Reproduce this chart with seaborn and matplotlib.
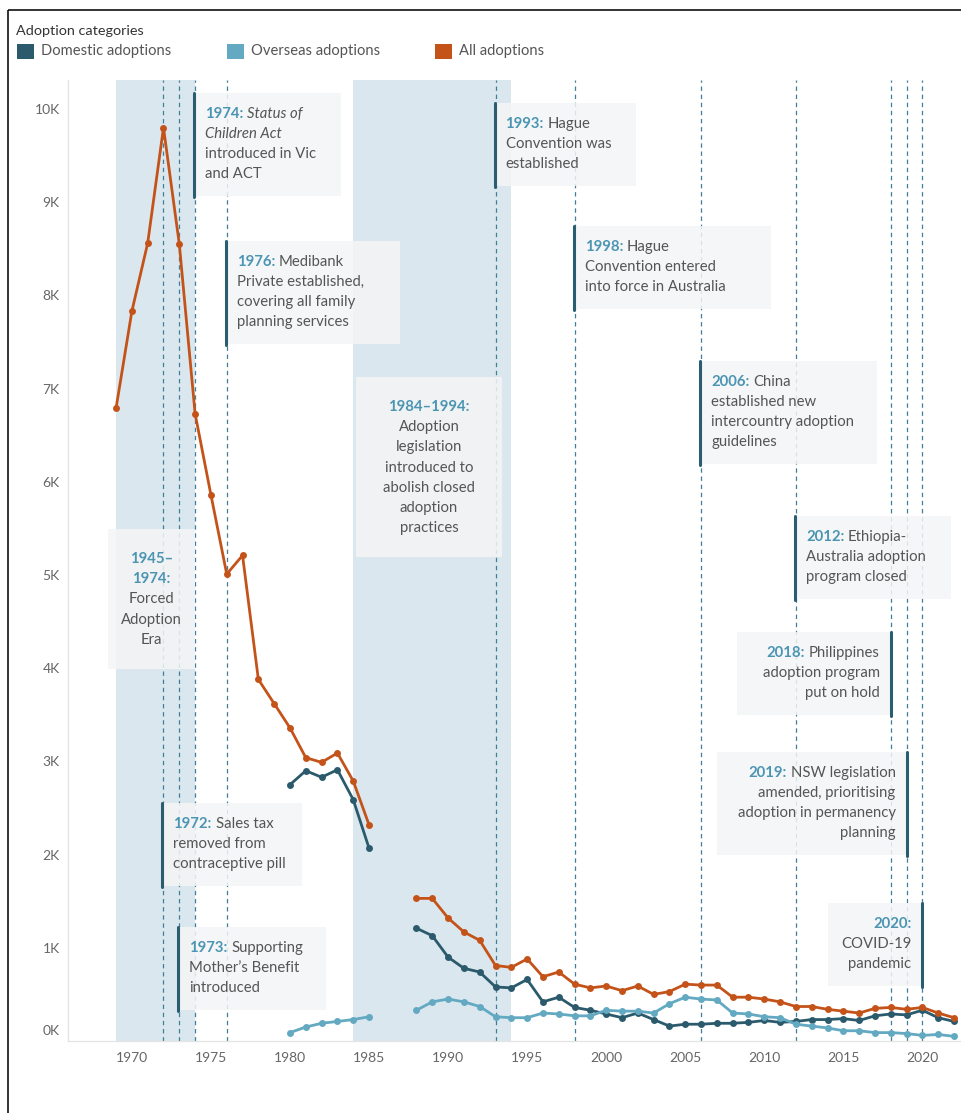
import numpy as np
import pandas as pd
import matplotlib
matplotlib.use('Agg')
import matplotlib.pyplot as plt
import matplotlib.transforms as mtransforms
from matplotlib.patches import Rectangle
import seaborn as sns

# ---------------- data ----------------
years_early_all = list(range(1969, 1986))
all_early = [6790, 7830, 8560, 9800, 8550, 6730, 5860, 5010, 5210, 3880,
             3620, 3360, 3040, 2990, 3090, 2790, 2320]
years_early_sub = list(range(1980, 1986))
dom_early = [2750, 2900, 2830, 2910, 2590, 2070]
ovs_early = [90, 150, 190, 210, 230, 260]

years_late = list(range(1988, 2023))
all_late = [1530, 1530, 1320, 1170, 1080, 810, 790, 880, 690, 740,
            610, 570, 590, 540, 590, 500, 530, 610, 600, 600,
            470, 470, 450, 420, 370, 370, 340, 320, 300, 350,
            360, 340, 360, 300, 250]
dom_late = [1210, 1130, 900, 780, 740, 580, 570, 660, 420, 470,
            360, 330, 290, 250, 300, 230, 160, 180, 180, 190,
            190, 200, 220, 200, 210, 230, 230, 240, 220, 270,
            290, 280, 330, 250, 210]
ovs_late = [330, 420, 450, 420, 370, 260, 250, 250, 300, 290,
            270, 270, 330, 320, 320, 300, 400, 470, 450, 440,
            300, 290, 260, 250, 180, 160, 140, 110, 110, 90,
            90, 80, 60, 70, 50]

categories = ['Domestic adoptions', 'Overseas adoptions', 'All adoptions']
colors = ['#2a5a6b', '#62a9c1', '#c4531a']
event_years = [1972, 1973, 1974, 1976, 1993, 1998, 2006, 2012, 2018, 2019, 2020]
shade_periods = [(1969, 1974), (1984, 1994)]
y_ticks = [0, 1000, 2000, 3000, 4000, 5000, 6000, 7000, 8000, 9000, 10000]
y_ticklabels = ['0K', '1K', '2K', '3K', '4K', '5K', '6K', '7K', '8K', '9K', '10K']
x_ticks = [1970, 1975, 1980, 1985, 1990, 1995, 2000, 2005, 2010, 2015, 2020]

rows = []
def add(cat, seg, yrs, vals):
    for yr, v in zip(yrs, vals):
        rows.append(dict(category=cat, segment=f'{cat}-{seg}', year=yr, value=v))
add('All adoptions', 'a', years_early_all, all_early)
add('Domestic adoptions', 'a', years_early_sub, dom_early)
add('Overseas adoptions', 'a', years_early_sub, ovs_early)
add('All adoptions', 'b', years_late, all_late)
add('Domestic adoptions', 'b', years_late, dom_late)
add('Overseas adoptions', 'b', years_late, ovs_late)
df = pd.DataFrame(rows)

# ---------------- figure ----------------
W, H = 962, 1113
sns.set_theme(style='white')
plt.rcParams['font.family'] = ['Lato', 'DejaVu Sans']

fig = plt.figure(figsize=(W / 100, H / 100), dpi=100)
L, R, T, B = 68, 960, 80, 1041
ax = fig.add_axes([L / W, 1 - B / H, (R - L) / W, (B - T) / H])
ax.set_xlim(1965.96, 2022.38)
ax.set_ylim(0, 10311)

for a, b in shade_periods:
    ax.axvspan(a, b, color='#dbe7ee', lw=0, zorder=0)
for yr in event_years:
    ax.axvline(yr, color='#3f7f98', lw=0.9, ls=(0, (3.5, 3)), zorder=1)

sns.lineplot(data=df, x='year', y='value', hue='category', units='segment',
             estimator=None, hue_order=categories, palette=colors,
             marker='o', markersize=5, markeredgewidth=0, linewidth=2.0,
             legend=False, ax=ax, zorder=3)

ax.set_xlabel('')
ax.set_ylabel('')
ax.set_yticks(y_ticks)
ax.set_yticklabels(y_ticklabels)
ax.set_xticks(x_ticks)
ax.set_xticklabels([str(x) for x in x_ticks])
ax.tick_params(axis='both', colors='#d9d9d9', labelcolor='#666666',
               labelsize=10, length=4, width=0.8)
ax.tick_params(axis='y', pad=2)
ax.tick_params(axis='x', pad=4)
for s in ['top', 'right']:
    ax.spines[s].set_visible(False)
for s in ['left', 'bottom']:
    ax.spines[s].set_color('#e3e3e3')
    ax.spines[s].set_linewidth(0.9)
ax.grid(False)
# Tableau nudges the lowest label up inside the pane
zero_lab = ax.get_yticklabels()[0]
zero_lab.set_transform(zero_lab.get_transform() +
                       mtransforms.ScaledTranslation(0, 11 / 100, fig.dpi_scale_trans))

# pixel transform (origin top-left)
PX = mtransforms.Affine2D().scale(1, -1).translate(0, H)
fig.canvas.draw()
renderer = fig.canvas.get_renderer()

YEAR_C = '#4b95b3'
BODY_C = '#555555'
BAR_C = '#2b5d70'
BOX_C = '#f4f5f6'
FS = 10.7

def style_of(kind):
    if kind == 'y':
        return dict(color=YEAR_C, fontweight='bold', fontstyle='normal')
    if kind == 'i':
        return dict(color=BODY_C, fontweight='normal', fontstyle='italic')
    return dict(color=BODY_C, fontweight='normal', fontstyle='normal')

def measure(txt, kind):
    t = fig.text(0, 0, txt, fontsize=FS, transform=PX, **style_of(kind))
    w = t.get_window_extent(renderer).width
    t.remove()
    return w

SP = measure('a a', 'n') - measure('aa', 'n')

def draw_runs(x, y, runs, ha='left'):
    widths = []
    for txt, kind in runs:
        lead = len(txt) - len(txt.lstrip(' '))
        widths.append((lead * SP, measure(txt.strip(' '), kind) if txt.strip() else 0))
    total = sum(a + b for a, b in widths)
    if ha == 'left':
        cur = x
    elif ha == 'right':
        cur = x - total
    else:
        cur = x - total / 2
    for (txt, kind), (lead, w) in zip(runs, widths):
        cur += lead
        fig.text(cur, y, txt.strip(' '), fontsize=FS, transform=PX, ha='left',
                 va='center', zorder=6, **style_of(kind))
        cur += w

def xpix(year):
    return ax.transData.transform((year, 0))[0]

def box(x0, x1, top, bot, bar=None):
    fig.patches.append(Rectangle((x0, top), x1 - x0, bot - top, transform=PX,
                                 facecolor=BOX_C, edgecolor='none', alpha=0.85,
                                 zorder=4))
    if bar is not None:
        fig.lines.append(plt.Line2D([bar, bar], [top, bot + 1], transform=PX,
                                    color=BAR_C, lw=2.2, zorder=5))

# side annotations: year, side, width(px), top(px), lines
annotations = [
    (1974, 'left', 147, 93, [[('1974:', 'y'), (' Status of', 'i')], [('Children Act', 'i')],
                            [('introduced in Vic', 'n')], [('and ACT', 'n')]]),
    (1976, 'left', 174, 241, [[('1976:', 'y'), (' Medibank', 'n')],
                             [('Private established,', 'n')],
                             [('covering all family', 'n')], [('planning services', 'n')]]),
    (1972, 'left', 140, 803, [[('1972:', 'y'), (' Sales tax', 'n')], [('removed from', 'n')],
                             [('contraceptive pill', 'n')]]),
    (1973, 'left', 148, 927, [[('1973:', 'y'), (' Supporting', 'n')],
                             [('Mother\u2019s Benefit', 'n')], [('introduced', 'n')]]),
    (1993, 'left', 141, 103, [[('1993:', 'y'), (' Hague', 'n')], [('Convention was', 'n')],
                             [('established', 'n')]]),
    (1998, 'left', 197, 226, [[('1998:', 'y'), (' Hague', 'n')], [('Convention entered', 'n')],
                             [('into force in Australia', 'n')]]),
    (2006, 'left', 177, 361, [[('2006:', 'y'), (' China', 'n')], [('established new', 'n')],
                             [('intercountry adoption', 'n')], [('guidelines', 'n')]]),
    (2012, 'left', 156, 516, [[('2012:', 'y'), (' Ethiopia-', 'n')],
                             [('Australia adoption', 'n')], [('program closed', 'n')]]),
    (2018, 'right', 154, 632, [[('2018:', 'y'), (' Philippines', 'n')],
                              [('adoption program', 'n')], [('put on hold', 'n')]]),
    (2019, 'right', 190, 752, [[('2019:', 'y'), (' NSW legislation', 'n')],
                              [('amended, prioritising', 'n')],
                              [('adoption in permanency', 'n')], [('planning', 'n')]]),
    (2020, 'right', 94, 903, [[('2020:', 'y')], [('COVID-19', 'n')], [('pandemic', 'n')]]),
]
for yr, side, w, top, lines in annotations:
    bx = xpix(yr)
    bot = top + 20 * len(lines) + 23
    if side == 'left':
        box(bx - 1, bx - 1 + w, top, bot, bar=bx - 1)
        for i, ln in enumerate(lines):
            draw_runs(bx + 10, top + 21 + 20 * i, ln, 'left')
    else:
        box(bx - w, bx, top, bot, bar=bx)
        for i, ln in enumerate(lines):
            draw_runs(bx - 11, top + 21 + 20 * i, ln, 'right')

# centered period annotations
centered = [
    (108, 195, 529, [[('1945\u2013', 'y')], [('1974:', 'y')], [('Forced', 'n')],
                     [('Adoption', 'n')], [('Era', 'n')]]),
    (356, 502, 377, [[('1984\u20131994:', 'y')], [('Adoption', 'n')], [('legislation', 'n')],
                     [('introduced to', 'n')], [('abolish closed', 'n')],
                     [('adoption', 'n')], [('practices', 'n')]]),
]
for x0, x1, top, lines in centered:
    bot = top + 20 * len(lines) + 40
    box(x0, x1, top, bot)
    cx = (x0 + x1) / 2
    for i, ln in enumerate(lines):
        draw_runs(cx, top + 30 + 20.2 * i, ln, 'center')

# ---------------- legend ----------------
fig.text(16, 31, 'Adoption categories', transform=PX, fontsize=10.4, color='#333333',
         ha='left', va='center', fontweight='normal')
leg_x = [17, 227, 435]
for (lx, cat, col) in zip(leg_x, categories, colors):
    fig.patches.append(Rectangle((lx, 44), 17, 15, transform=PX, facecolor=col,
                                 edgecolor='none'))
    fig.text(lx + 24, 51.5, cat, transform=PX, fontsize=10.6, color='#555555',
             ha='left', va='center')

# outer frame
fig.patches.append(Rectangle((8, 10), 1200, 1300, transform=PX, facecolor='none',
                             edgecolor='#111111', lw=1.2))

fig.savefig('out.png', dpi=100, facecolor='white')
